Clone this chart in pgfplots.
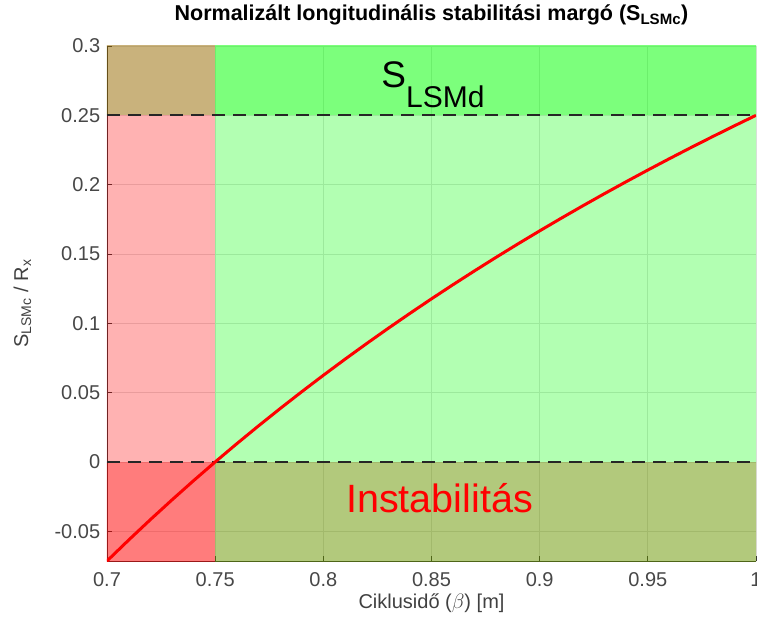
\documentclass[border=0pt]{standalone}
\usepackage{pgfplots}
\pgfplotsset{compat=1.18}
\usepackage{fontspec}
\setmainfont{Liberation Sans}

\newcommand\tickfont{\fontsize{20}{24}\selectfont}
\newcommand\titlefont{\fontsize{21.5}{26}\selectfont\bfseries}

\begin{document}
\begin{tikzpicture}
\begin{axis}[
  name=ax,
  scale only axis,
  width=649pt, height=515pt,
  xmin=0.7, xmax=1,
  ymin=-0.0714286, ymax=0.3,
  axis x line=bottom, axis y line=left,
  axis line style={-, black!80, line width=0.8pt},
  tick align=inside,
  major tick length=5pt,
  tick style={black!80, line width=0.8pt},
  xtick={0.7,0.75,0.8,0.85,0.9,0.95,1},
  xticklabels={0.7,0.75,0.8,0.85,0.9,0.95,1},
  ytick={-0.05,0,0.05,0.1,0.15,0.2,0.25,0.3},
  yticklabels={-0.05,0,0.05,0.1,0.15,0.2,0.25,0.3},
  ticklabel style={font=\tickfont, text=black!72},
  /pgf/number format/assume math mode=true,
  yticklabel style={xshift=-3.3pt},
  xticklabel style={yshift=-8pt},
  grid=major,
  major grid style={black!12, line width=0.7pt},
  xlabel={Ciklusidő ($\beta$) [m]},
  ylabel={S\textsubscript{LSMc} / R\textsubscript{x}},
  label style={font=\tickfont, text=black!75},
  xlabel style={at={(axis description cs:0.5,-0.0932)}, anchor=base},
  ylabel style={at={(axis description cs:-0.1217,0.5)}, anchor=base},
  title={Normalizált longitudinális stabilitási margó (S\textsubscript{LSMc})},
  title style={font=\titlefont, at={(axis description cs:0.5,1.0369)}, anchor=base},
]
% unstable band below zero
\addplot[draw=none, fill=red, fill opacity=0.3]
  coordinates {(0.69,-0.08) (1.01,-0.08) (1.01,0) (0.69,0)} -- cycle;
% required margin band
\addplot[draw=none, fill=green, fill opacity=0.3]
  coordinates {(0.69,0.25) (1.01,0.25) (1.01,0.31) (0.69,0.31)} -- cycle;
% admissible cycle times
\addplot[draw=none, fill=green, fill opacity=0.3]
  coordinates {(0.75,-0.08) (1.01,-0.08) (1.01,0.31) (0.75,0.31)} -- cycle;
% too short cycle times
\addplot[draw=none, fill=red, fill opacity=0.3]
  coordinates {(0.69,-0.08) (0.75,-0.08) (0.75,0.31) (0.69,0.31)} -- cycle;

% limit lines
\addplot[black!85, line width=2pt, dash pattern=on 13pt off 8pt]
  coordinates {(0.7,0) (1,0)};
\addplot[black!85, line width=2pt, dash pattern=on 13pt off 8pt]
  coordinates {(0.7,0.25) (1,0.25)};

% normalized stability margin
\addplot[red, line width=3pt] coordinates {
(0.70,-0.07143) (0.71,-0.05634) (0.72,-0.04167) (0.73,-0.02740) (0.74,-0.01351)
(0.75,0) (0.76,0.01316) (0.77,0.02597) (0.78,0.03846) (0.79,0.05063)
(0.80,0.0625) (0.81,0.07407) (0.82,0.08537) (0.83,0.09639) (0.84,0.10714)
(0.85,0.11765) (0.86,0.12791) (0.87,0.13793) (0.88,0.14773) (0.89,0.15730)
(0.90,0.16667) (0.91,0.17582) (0.92,0.18478) (0.93,0.19355) (0.94,0.20213)
(0.95,0.21053) (0.96,0.21875) (0.97,0.22680) (0.98,0.23469) (0.99,0.24242)
(1.00,0.25)};

\node[anchor=base, inner sep=0pt] at (axis cs:0.8507,0.2704)
  {{\fontsize{37}{40}\selectfont S}\raisebox{-20pt}{\fontsize{30}{34}\selectfont LSMd}};
\node[anchor=base, text=red, inner sep=0pt] at (axis cs:0.8537,-0.0368)
  {\fontsize{39.5}{44}\selectfont Instabilitás};
\end{axis}
\pgfresetboundingbox
\path[use as bounding box] (ax.south west) ++(-107pt,-65pt) rectangle ++(757pt,626pt);
\end{tikzpicture}
\end{document}
